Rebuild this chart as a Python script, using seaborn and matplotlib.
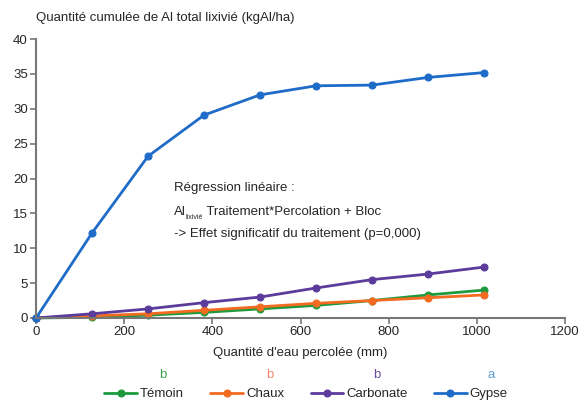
import numpy as np
import pandas as pd
import matplotlib
matplotlib.use('Agg')
import matplotlib.pyplot as plt
from matplotlib import font_manager
import seaborn as sns

# données
percolation = [0, 127, 254, 381, 508, 635, 762, 889, 1016]
temoin = [0, 0.1, 0.4, 0.8, 1.3, 1.8, 2.5, 3.3, 4.0]
chaux = [0, 0.3, 0.6, 1.1, 1.6, 2.1, 2.5, 2.9, 3.3]
carbonate = [0, 0.6, 1.3, 2.2, 3.0, 4.3, 5.5, 6.3, 7.3]
gypse = [0, 12.2, 23.2, 29.1, 32.0, 33.3, 33.4, 34.5, 35.2]
treatments = ['Témoin', 'Chaux', 'Carbonate', 'Gypse']
groups = ['b', 'b', 'b', 'a']
colors = ['#1e9a3e', '#f26b21', '#5b3c9c', '#1f6cc8']
group_colors = ['#3aa44a', '#f08a6e', '#6a4ea0', '#5b9bd5']

sns.set_style('white')
names = [f.name for f in font_manager.fontManager.ttflist]
family = 'Liberation Sans Narrow' if 'Liberation Sans Narrow' in names else 'Liberation Sans'
plt.rcParams['font.family'] = [family, 'DejaVu Sans']

df = pd.DataFrame({
    'x': percolation * 4,
    'y': temoin + chaux + carbonate + gypse,
    'trt': sum([[t] * len(percolation) for t in treatments], []),
})

fig = plt.figure(figsize=(5.82, 4.03), dpi=100)
ax = fig.add_axes([0.062, 0.211, 0.909, 0.692])
sns.lineplot(data=df, x='x', y='y', hue='trt', hue_order=treatments,
             palette=colors, marker='o', markersize=5, markeredgewidth=0.8,
             linewidth=2, ax=ax, legend=True)
for line in ax.lines:
    line.set_clip_on(False)
    line.set_markeredgecolor(line.get_color())

ax.set_xlim(0, 1200)
ax.set_ylim(0, 40)
ax.set_xticks(range(0, 1201, 200))
ax.set_yticks(range(0, 41, 5))
ax.tick_params(labelsize=9.5, length=4, width=1.2, color='#777777', direction='out',
               bottom=True, left=True, pad=2)
sns.despine(ax=ax)
for s in ['left', 'bottom']:
    ax.spines[s].set_color('#777777')
    ax.spines[s].set_linewidth(1.5)
ax.set_xlabel("Quantité d'eau percolée (mm)", fontsize=9.5, labelpad=6)
ax.set_ylabel('')
fig.text(36 / 582, 1 - 18 / 403, 'Quantité cumulée de Al total lixivié (kgAl/ha)',
         fontsize=9.5, va='center', ha='left')

# texte de la régression
ax.text(0.26, 0.455, 'Régression linéaire :', transform=ax.transAxes, fontsize=9.5,
        va='baseline')
t_al = ax.text(0.26, 0.37, 'Al', transform=ax.transAxes, fontsize=9.5, va='baseline')
t_sub = ax.annotate('lixivié', xy=(1, 0), xycoords=t_al, xytext=(0, -2),
                    textcoords='offset points', fontsize=5, va='bottom')
ax.annotate(' Traitement*Percolation + Bloc', xy=(1, 0), xycoords=t_sub,
            xytext=(0, 2), textcoords='offset points', fontsize=9.5, va='bottom')
ax.text(0.26, 0.29, '-> Effet significatif du traitement (p=0,000)',
        transform=ax.transAxes, fontsize=9.5, va='baseline')

handles, labels = ax.get_legend_handles_labels()
ax.get_legend().remove()
fig.legend(handles, labels, loc='center', bbox_to_anchor=(306 / 582, 1 - 394 / 403), ncol=4,
           frameon=False, fontsize=9.5, handlelength=2.5, handletextpad=0.2,
           columnspacing=2.0, borderaxespad=0, borderpad=0)

for g, c, xp in zip(groups, group_colors, [163, 270, 377, 491]):
    fig.text(xp / 582, 1 - 375 / 403, g, color=c, fontsize=9.5, ha='center', va='center')

fig.savefig('out.png', dpi=100)
